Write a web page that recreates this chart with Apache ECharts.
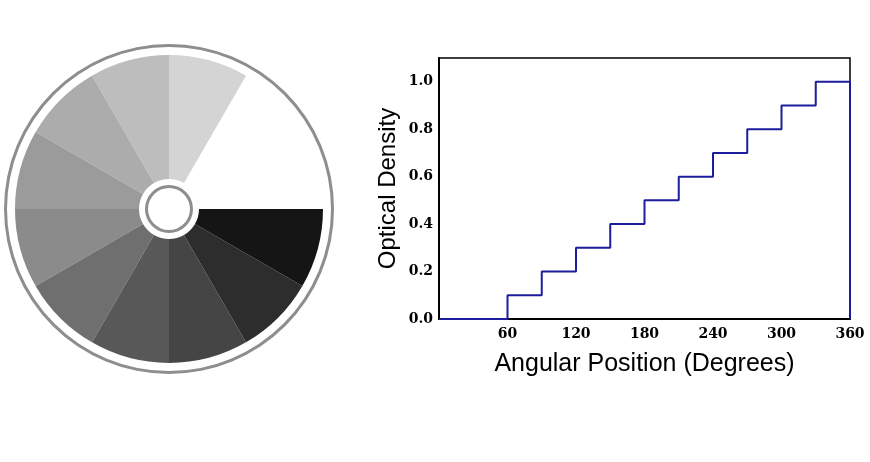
<!DOCTYPE html>
<html>
<head>
<meta charset="utf-8">
<script src="https://cdn.jsdelivr.net/npm/echarts@6/dist/echarts.min.js"></script>
<style>
  html, body { margin: 0; padding: 0; background: #fff; }
  #chart { width: 870px; height: 462px; }
</style>
</head>
<body>
<div id="chart"></div>
<script>
// step wedge: start angle of each segment (degrees) and its optical density
const stepStarts = [0, 60, 90, 120, 150, 180, 210, 240, 270, 300, 330];
const densities = [0, 0.1, 0.2, 0.3, 0.4, 0.5, 0.6, 0.7, 0.8, 0.9, 1.0];
const stepEnd = 360;
// grey shade of each disc sector
const sectorColors = ['#ffffff', '#d4d4d4', '#bdbdbd', '#acacac', '#9b9b9b', '#8b8b8b',
                      '#6f6f6f', '#585858', '#454545', '#2d2d2d', '#151515'];
const xTicks = [60, 120, 180, 240, 300, 360];
const yTicks = [0.0, 0.2, 0.4, 0.6, 0.8, 1.0];

const chart = echarts.init(document.getElementById('chart'));

const stepData = stepStarts.map((s, i) => [s, densities[i]]);
stepData.push([stepEnd, densities[densities.length - 1]]);
stepData.push([stepEnd, 0]);

const sectorData = stepStarts.map((s, i) => ({
    value: (i + 1 < stepStarts.length ? stepStarts[i + 1] : stepEnd) - s,
    itemStyle: { color: sectorColors[i] }
}));

const ring = (r0, r1) => ({
    type: 'pie',
    center: [169, 209],
    radius: [r0, r1],
    silent: true,
    label: { show: false },
    labelLine: { show: false },
    emphasis: { disabled: true },
    itemStyle: { color: '#8e8e8e' },
    data: [1]
});

const tickFont = { fontFamily: 'DejaVu Serif', fontWeight: 'bold', fontSize: 14, color: '#000' };

chart.setOption({
    animation: false,
    backgroundColor: '#fff',
    grid: {
        left: 439, right: 20, top: 58, bottom: 143,
        show: true, borderColor: '#000', borderWidth: 1.5
    },
    xAxis: {
        type: 'value',
        min: 0, max: 360, interval: 60,
        name: 'Angular Position (Degrees)',
        nameLocation: 'middle',
        nameGap: 33,
        nameTextStyle: { fontFamily: 'Liberation Sans', fontSize: 25, color: '#000' },
        axisLine: { lineStyle: { color: '#000', width: 2 } },
        axisTick: { show: false },
        splitLine: { show: false },
        axisLabel: Object.assign({}, tickFont, {
            margin: 8,
            formatter: v => xTicks.includes(v) ? String(v) : ''
        })
    },
    yAxis: {
        type: 'value',
        min: 0, max: 1.1, interval: 0.2,
        name: 'Optical Density',
        nameLocation: 'middle',
        nameGap: 39,
        nameTextStyle: { fontFamily: 'Liberation Sans', fontSize: 24, color: '#000' },
        axisLine: { show: true, lineStyle: { color: '#000', width: 2 } },
        axisTick: { show: false },
        splitLine: { show: false },
        axisLabel: Object.assign({}, tickFont, {
            margin: 6,
            showMaxLabel: false,
            formatter: v => yTicks.some(t => Math.abs(t - v) < 1e-6) ? v.toFixed(1) : ''
        })
    },
    series: [
        ring(162, 165),
        {
            type: 'pie',
            center: [169, 209],
            radius: [30, 154],
            startAngle: 0,
            clockwise: false,
            silent: true,
            label: { show: false },
            labelLine: { show: false },
            emphasis: { disabled: true },
            data: sectorData
        },
        ring(21, 24),
        {
            type: 'line',
            step: 'end',
            symbol: 'none',
            lineStyle: { color: '#1c1c9c', width: 2 },
            data: stepData
        }
    ]
});
</script>
</body>
</html>
